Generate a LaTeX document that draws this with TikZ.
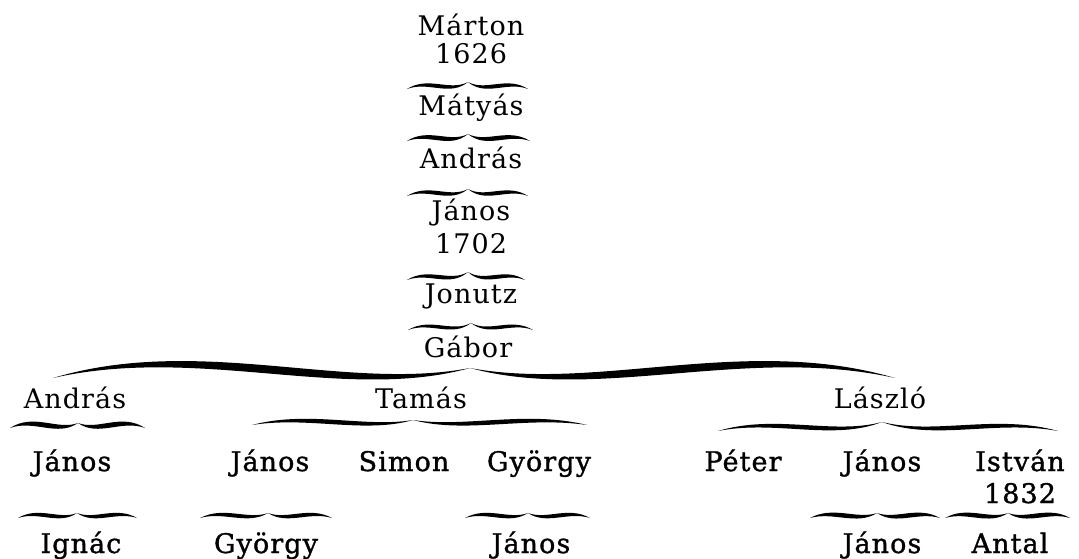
\documentclass[tikz,border=0pt]{standalone}
\usepackage{fontspec}
\setmainfont{DejaVu Serif}[LetterSpace=4]
\newfontfamily\vastag{DejaVu Serif}[LetterSpace=4,FakeBold=1.2]
\usepackage{tikz}

% swelling brace: left x, tip x, right x, end y, arch, tip height, thickness
\newcommand{\kapocs}[7]{%
  \fill[kapocsfill] (#1,#4)
    .. controls ({#1+0.35*(#2-#1)},{#4-2.4*#5-#7/1.5}) and ({#2-0.3*(#2-#1)},{#4+1.2*#5-#7/1.5}) .. (#2,{#4-#6})
    .. controls ({#2-0.3*(#2-#1)},{#4+1.2*#5+#7/1.5}) and ({#1+0.35*(#2-#1)},{#4-2.4*#5+#7/1.5}) .. (#1,#4) -- cycle;
  \fill[kapocsfill] (#2,{#4-#6})
    .. controls ({#2+0.3*(#3-#2)},{#4+1.2*#5-#7/1.5}) and ({#3-0.35*(#3-#2)},{#4-2.4*#5-#7/1.5}) .. (#3,#4)
    .. controls ({#3-0.35*(#3-#2)},{#4-2.4*#5+#7/1.5}) and ({#2+0.3*(#3-#2)},{#4+1.2*#5+#7/1.5}) .. (#2,{#4-#6}) -- cycle;
}

\begin{document}
\begin{tikzpicture}[x=1pt, y=-1pt,
    nev/.style={font=\fontsize{27}{28}\selectfont, inner sep=0pt, anchor=base, align=center},
    nevb/.style={nev, font=\vastag\fontsize{27}{28}\selectfont},
    kapocsfill/.style={fill=black}
  ]
    \useasboundingbox (0,0) rectangle (1079,558);

    % Torzs
    \node[nev] (marton) at (471,63) {Márton\\1626};
    \node[nev] (matyas) at (471,115) {Mátyás};
    \node[nev] (andras1) at (471,168) {András};
    \node[nev] (janos1) at (471,253) {János\\[5pt]1702};
    \node[nev] (jonutz) at (471,303) {Jonutz};
    \node[nev] (gabor) at (468,357) {Gábor};

    \kapocs{407}{468}{528}{89}{4.5}{7}{4}
    \kapocs{407}{468}{530}{141}{4.5}{7}{4.5}
    \kapocs{407}{468}{528}{196}{4.5}{7}{4}
    \kapocs{407}{468}{525}{280}{4.5}{8}{4}
    \kapocs{408}{471}{533}{330}{4.5}{7}{3.5}

    % Gabor fiai
    \kapocs{53}{470}{895}{378}{16}{10}{8}
    \node[nev] (andras2) at (75,408) {András};
    \node[nev] (tamas) at (421,408) {Tamás};
    \node[nev] (laszlo) at (880,408) {László};

    \kapocs{10}{78}{145}{428}{5}{5}{5}
    \kapocs{252}{413}{587}{425}{5}{5}{4.5}
    \kapocs{718}{882}{1058}{431}{6}{9}{4.5}

    % unokak
    \node[nevb] (janos2) at (72,471) {János};
    \node[nevb] (janos3) at (270,471) {János};
    \node[nevb] (simon) at (404,471) {Simon};
    \node[nevb] (gyorgy1) at (539,471) {György};
    \node[nevb] (peter) at (743,471) {Péter};
    \node[nevb] (janos4) at (882,471) {János};
    \node[nevb] (istvan) at (1020,503) {István\\[4pt]1832};

    \kapocs{18}{77}{137}{518}{4}{5}{4}
    \kapocs{200}{268}{332}{518}{4}{5}{4}
    \kapocs{465}{528}{590}{518}{4}{5}{4}
    \kapocs{810}{877}{940}{518}{4}{5}{4.5}
    \kapocs{945}{1008}{1070}{518}{4}{5}{4.5}

    % dedunokak
    \node[nevb] (ignac) at (81,553) {Ignác};
    \node[nevb] (gyorgy2) at (266,553) {György};
    \node[nevb] (janos5) at (531,553) {János};
    \node[nevb] (janos6) at (882,553) {János};
    \node[nevb] (antal) at (1010,553) {Antal};
  \end{tikzpicture}
\end{document}
